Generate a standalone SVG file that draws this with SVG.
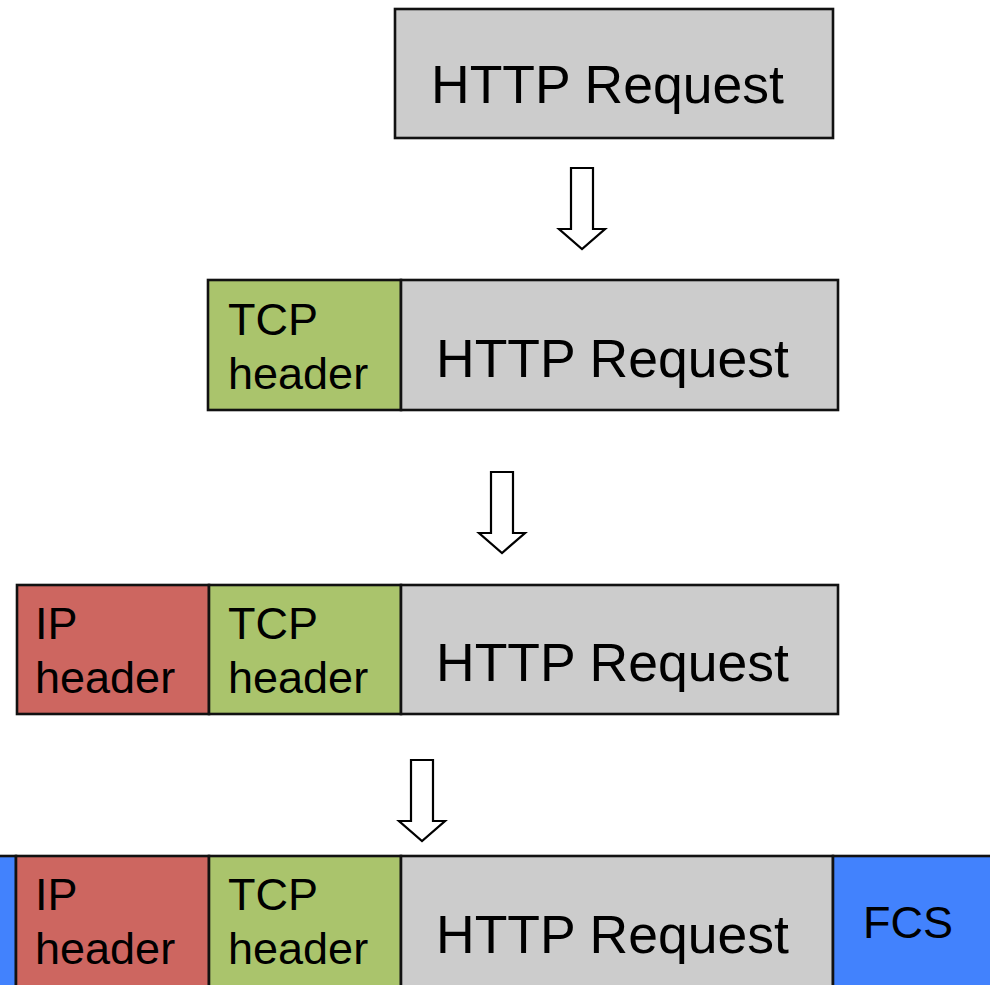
<svg xmlns="http://www.w3.org/2000/svg" xmlns:xlink="http://www.w3.org/1999/xlink" width="990" height="985" viewBox="0 0 990 985">
  <style>
    .box { stroke: #111; stroke-width: 2.6; }
    .http { fill: #cccccc; }
    .tcp { fill: #aac46c; }
    .ip { fill: #cd6660; }
    .frame { fill: #4282fd; }
    .lbl { font-family: "Liberation Sans", Arial, sans-serif; fill: #000; }
    .big { font-size: 53.5px; }
    .small { font-size: 45px; }
    .arrow { fill: #fff; stroke: #000; stroke-width: 2.2; stroke-linejoin: miter; }
  </style>
  <defs>
    <!-- hollow down arrow, tip at (0,0) -->
    <path id="downArrow" d="M -11 -81 L 11 -81 L 11 -20 L 23 -20 L 0 0 L -23 -20 L -11 -20 Z"/>
  </defs>
  <rect width="990" height="985" fill="#fff"/>

  <!-- Step 1: application data -->
  <g id="http-request">
    <rect class="box http" x="395" y="9" width="438" height="129"/>
    <text class="lbl big" x="431" y="103">HTTP Request</text>
  </g>

  <!-- Step 2: TCP segment -->
  <g id="tcp-segment">
    <rect class="box tcp" x="208" y="280" width="193" height="130"/>
    <rect class="box http" x="401" y="280" width="437" height="130"/>
    <text class="lbl small" x="228" y="335">TCP</text>
    <text class="lbl small" x="228" y="389">header</text>
    <text class="lbl big" x="436" y="377">HTTP Request</text>
  </g>

  <!-- Step 3: IP packet -->
  <g id="ip-packet">
    <rect class="box ip" x="17" y="585" width="192" height="129"/>
    <rect class="box tcp" x="209" y="585" width="192" height="129"/>
    <rect class="box http" x="401" y="585" width="437" height="129"/>
    <text class="lbl small" x="35" y="639">IP</text>
    <text class="lbl small" x="35" y="693">header</text>
    <text class="lbl small" x="228" y="639">TCP</text>
    <text class="lbl small" x="228" y="693">header</text>
    <text class="lbl big" x="436" y="681">HTTP Request</text>
  </g>

  <!-- Step 4: link-layer frame -->
  <g id="frame">
    <rect class="box frame" x="-50" y="856" width="66" height="160"/>
    <rect class="box ip" x="16" y="856" width="193" height="160"/>
    <rect class="box tcp" x="209" y="856" width="192" height="160"/>
    <rect class="box http" x="401" y="856" width="432" height="160"/>
    <rect class="box frame" x="833" y="856" width="200" height="160"/>
    <text class="lbl small" x="35" y="910">IP</text>
    <text class="lbl small" x="35" y="964">header</text>
    <text class="lbl small" x="228" y="910">TCP</text>
    <text class="lbl small" x="228" y="964">header</text>
    <text class="lbl big" x="436" y="953">HTTP Request</text>
    <text class="lbl small" x="863" y="938">FCS</text>
  </g>

  <!-- Encapsulation arrows -->
  <g id="connectors">
    <use xlink:href="#downArrow" class="arrow" x="582" y="249"/>
    <use xlink:href="#downArrow" class="arrow" x="502" y="553"/>
    <use xlink:href="#downArrow" class="arrow" x="422" y="841"/>
  </g>
</svg>
